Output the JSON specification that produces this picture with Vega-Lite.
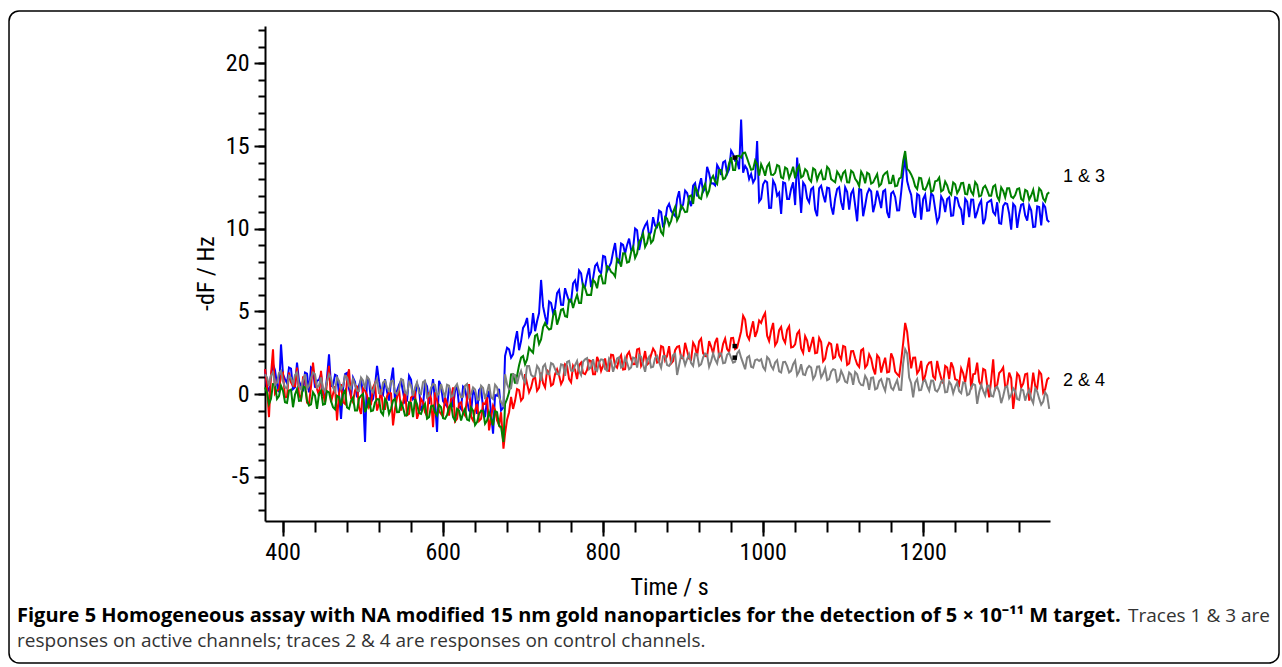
{
  "$schema": "https://vega.github.io/schema/vega-lite/v6.json",
  "width": 785,
  "height": 495,
  "autosize": {"type": "none"},
  "padding": {"left": 265, "top": 26, "right": 232, "bottom": 146},
  "background": "white",
  "config": {
    "view": {"stroke": null},
    "axis": {"domainColor": "black", "tickColor": "black", "labelColor": "black", "titleColor": "black", "grid": false}
  },
  "data": {"values": [
    {"t":378,"T1":1.5,"T2":1.5,"T3":0.4,"T4":1.2},
    {"t":383,"T1":0.2,"T2":-1.4,"T3":-0.6,"T4":0.5},
    {"t":388,"T1":1.8,"T2":2.7,"T3":0.6,"T4":1.3},
    {"t":393,"T1":0.6,"T2":0.2,"T3":-0.3,"T4":0.7},
    {"t":398,"T1":3.0,"T2":1.1,"T3":0.5,"T4":1.4},
    {"t":403,"T1":0.9,"T2":-0.2,"T3":-0.5,"T4":0.4},
    {"t":408,"T1":1.6,"T2":1.3,"T3":0.2,"T4":1.1},
    {"t":413,"T1":0.3,"T2":0.5,"T3":-0.8,"T4":0.6},
    {"t":418,"T1":1.9,"T2":1.6,"T3":0.3,"T4":1.3},
    {"t":423,"T1":0.5,"T2":-0.3,"T3":-0.4,"T4":0.3},
    {"t":428,"T1":1.3,"T2":1.0,"T3":0.4,"T4":1.2},
    {"t":433,"T1":0.1,"T2":-0.6,"T3":-0.7,"T4":0.5},
    {"t":438,"T1":1.5,"T2":1.9,"T3":0.1,"T4":1.3},
    {"t":443,"T1":0.8,"T2":0.3,"T3":-0.9,"T4":0.4},
    {"t":448,"T1":1.2,"T2":1.4,"T3":0.2,"T4":1.0},
    {"t":453,"T1":-0.1,"T2":-0.5,"T3":-0.6,"T4":0.2},
    {"t":458,"T1":2.4,"T2":1.7,"T3":0.1,"T4":1.2},
    {"t":463,"T1":0.5,"T2":0.0,"T3":-0.8,"T4":0.4},
    {"t":468,"T1":1.1,"T2":-1.6,"T3":-0.1,"T4":1.0},
    {"t":473,"T1":-1.5,"T2":0.6,"T3":-0.7,"T4":0.3},
    {"t":478,"T1":1.2,"T2":-0.6,"T3":0.2,"T4":1.1},
    {"t":483,"T1":0.3,"T2":1.5,"T3":-0.9,"T4":0.5},
    {"t":488,"T1":1.0,"T2":-0.5,"T3":-0.2,"T4":0.9},
    {"t":493,"T1":-0.2,"T2":0.5,"T3":-1.0,"T4":0.2},
    {"t":498,"T1":0.9,"T2":-1.2,"T3":-0.1,"T4":1.0},
    {"t":503,"T1":-2.9,"T2":0.2,"T3":-1.1,"T4":0.3},
    {"t":508,"T1":0.8,"T2":-0.8,"T3":-0.2,"T4":0.9},
    {"t":513,"T1":-0.3,"T2":0.4,"T3":-1.0,"T4":0.1},
    {"t":518,"T1":1.7,"T2":-1.0,"T3":-0.3,"T4":0.9},
    {"t":523,"T1":0.1,"T2":0.3,"T3":-1.1,"T4":0.0},
    {"t":528,"T1":0.9,"T2":-0.9,"T3":-0.3,"T4":0.8},
    {"t":533,"T1":-0.4,"T2":0.1,"T3":-1.2,"T4":0.2},
    {"t":538,"T1":1.6,"T2":-1.9,"T3":-0.4,"T4":0.8},
    {"t":543,"T1":0.2,"T2":-0.2,"T3":-1.1,"T4":0.0},
    {"t":548,"T1":0.8,"T2":-1.0,"T3":-0.5,"T4":0.9},
    {"t":553,"T1":-0.5,"T2":0.2,"T3":-1.3,"T4":0.1},
    {"t":558,"T1":1.1,"T2":-1.2,"T3":-0.5,"T4":0.7},
    {"t":563,"T1":-0.3,"T2":-0.1,"T3":-1.4,"T4":-0.1},
    {"t":568,"T1":0.6,"T2":-1.5,"T3":-0.6,"T4":0.7},
    {"t":573,"T1":-1.0,"T2":-0.3,"T3":-1.2,"T4":0.0},
    {"t":578,"T1":0.7,"T2":-1.1,"T3":-0.6,"T4":0.8},
    {"t":583,"T1":-0.6,"T2":0.1,"T3":-1.4,"T4":-0.1},
    {"t":588,"T1":0.9,"T2":-2.0,"T3":-0.7,"T4":0.6},
    {"t":593,"T1":-2.3,"T2":-0.4,"T3":-1.3,"T4":-0.1},
    {"t":598,"T1":0.5,"T2":-1.2,"T3":-0.8,"T4":0.6},
    {"t":603,"T1":-0.6,"T2":-0.2,"T3":-1.5,"T4":-0.2},
    {"t":608,"T1":0.4,"T2":-1.3,"T3":-0.8,"T4":0.5},
    {"t":613,"T1":-0.8,"T2":0.4,"T3":-1.4,"T4":-0.1},
    {"t":618,"T1":0.5,"T2":-1.5,"T3":-0.9,"T4":0.6},
    {"t":623,"T1":-0.9,"T2":-0.5,"T3":-1.6,"T4":-0.2},
    {"t":628,"T1":0.3,"T2":-1.3,"T3":-0.9,"T4":0.5},
    {"t":633,"T1":-1.0,"T2":0.6,"T3":-1.6,"T4":-0.2},
    {"t":638,"T1":0.2,"T2":-1.6,"T3":-1.0,"T4":0.4},
    {"t":643,"T1":-1.2,"T2":-0.6,"T3":-1.7,"T4":-0.3},
    {"t":648,"T1":0.4,"T2":-1.5,"T3":-1.0,"T4":0.5},
    {"t":653,"T1":-1.4,"T2":-0.6,"T3":-1.8,"T4":-0.3},
    {"t":658,"T1":0.2,"T2":-2.2,"T3":-1.1,"T4":0.6},
    {"t":663,"T1":-2.4,"T2":-0.7,"T3":-1.9,"T4":-0.3},
    {"t":668,"T1":-0.1,"T2":-1.6,"T3":-1.1,"T4":0.4},
    {"t":673,"T1":-1.0,"T2":-1.1,"T3":-2.0,"T4":-0.5},
    {"t":676,"T1":-0.8,"T2":-3.3,"T3":-2.9,"T4":-0.7},
    {"t":678,"T1":2.3,"T2":-2.4,"T3":-0.6,"T4":1.2},
    {"t":683,"T1":2.7,"T2":-1.1,"T3":0.1,"T4":0.3},
    {"t":688,"T1":2.4,"T2":-0.9,"T3":1.2,"T4":1.2},
    {"t":693,"T1":3.8,"T2":0.3,"T3":1.1,"T4":0.6},
    {"t":698,"T1":3.2,"T2":-0.4,"T3":2.2,"T4":1.4},
    {"t":703,"T1":4.2,"T2":1.2,"T3":1.8,"T4":0.7},
    {"t":708,"T1":3.5,"T2":0.1,"T3":2.8,"T4":1.7},
    {"t":713,"T1":4.9,"T2":0.9,"T3":2.5,"T4":1.05},
    {"t":718,"T1":4.4,"T2":0.2,"T3":3.6,"T4":1.7},
    {"t":723,"T1":6.9,"T2":1.3,"T3":3.3,"T4":0.8},
    {"t":728,"T1":4.7,"T2":0.4,"T3":4.3,"T4":1.8},
    {"t":733,"T1":5.6,"T2":1.3,"T3":3.9,"T4":1.2},
    {"t":738,"T1":4.9,"T2":0.6,"T3":4.7,"T4":1.8},
    {"t":743,"T1":6.1,"T2":1.5,"T3":4.2,"T4":1.2},
    {"t":748,"T1":5.4,"T2":0.6,"T3":5.1,"T4":1.8},
    {"t":753,"T1":6.4,"T2":1.8,"T3":4.7,"T4":1.1},
    {"t":758,"T1":5.6,"T2":0.9,"T3":5.7,"T4":2.0},
    {"t":763,"T1":6.7,"T2":1.7,"T3":5.2,"T4":1.4},
    {"t":768,"T1":6.2,"T2":0.9,"T3":6.0,"T4":2.0},
    {"t":773,"T1":7.3,"T2":1.9,"T3":5.5,"T4":1.15},
    {"t":778,"T1":6.5,"T2":1.2,"T3":6.4,"T4":2.1},
    {"t":783,"T1":7.6,"T2":2.05,"T3":6.0,"T4":1.5},
    {"t":788,"T1":7.0,"T2":1.2,"T3":6.9,"T4":2.1},
    {"t":793,"T1":7.9,"T2":2.25,"T3":6.4,"T4":1.4},
    {"t":798,"T1":7.3,"T2":1.4,"T3":7.2,"T4":2.1},
    {"t":803,"T1":8.3,"T2":2.15,"T3":6.7,"T4":1.5},
    {"t":808,"T1":7.7,"T2":1.4,"T3":7.65,"T4":2.15},
    {"t":813,"T1":8.6,"T2":2.35,"T3":7.3,"T4":1.35},
    {"t":818,"T1":8.0,"T2":1.6,"T3":8.2,"T4":2.15},
    {"t":823,"T1":9.1,"T2":2.35,"T3":7.7,"T4":1.6},
    {"t":828,"T1":8.5,"T2":1.5,"T3":8.5,"T4":2.2},
    {"t":833,"T1":9.4,"T2":2.55,"T3":8.0,"T4":1.5},
    {"t":838,"T1":8.8,"T2":1.8,"T3":8.9,"T4":2.2},
    {"t":843,"T1":9.9,"T2":2.7,"T3":8.5,"T4":1.6},
    {"t":848,"T1":9.3,"T2":1.7,"T3":9.4,"T4":2.25},
    {"t":853,"T1":10.2,"T2":2.6,"T3":8.9,"T4":1.35},
    {"t":858,"T1":9.6,"T2":1.9,"T3":9.75,"T4":2.25},
    {"t":863,"T1":10.7,"T2":2.75,"T3":9.3,"T4":1.65},
    {"t":868,"T1":10.1,"T2":1.9,"T3":10.2,"T4":2.3},
    {"t":873,"T1":11.0,"T2":2.9,"T3":9.8,"T4":1.6},
    {"t":878,"T1":10.4,"T2":2.05,"T3":10.7,"T4":2.3},
    {"t":883,"T1":11.5,"T2":2.9,"T3":10.2,"T4":1.7},
    {"t":888,"T1":10.9,"T2":2.0,"T3":11.0,"T4":2.35},
    {"t":893,"T1":11.8,"T2":2.85,"T3":10.5,"T4":1.15},
    {"t":898,"T1":11.2,"T2":2.2,"T3":11.4,"T4":2.35},
    {"t":903,"T1":12.3,"T2":3.1,"T3":11.0,"T4":1.75},
    {"t":908,"T1":11.7,"T2":2.15,"T3":11.95,"T4":2.4},
    {"t":913,"T1":12.6,"T2":3.1,"T3":11.5,"T4":1.7},
    {"t":918,"T1":11.95,"T2":2.3,"T3":12.3,"T4":2.4},
    {"t":923,"T1":13.05,"T2":3.35,"T3":11.8,"T4":1.8},
    {"t":928,"T1":12.45,"T2":2.3,"T3":12.7,"T4":2.45},
    {"t":933,"T1":13.35,"T2":3.2,"T3":12.3,"T4":1.65},
    {"t":938,"T1":12.75,"T2":2.45,"T3":13.2,"T4":2.45},
    {"t":943,"T1":13.85,"T2":3.4,"T3":12.7,"T4":1.85},
    {"t":948,"T1":13.25,"T2":2.4,"T3":13.55,"T4":2.45},
    {"t":953,"T1":14.1,"T2":3.35,"T3":13.05,"T4":1.9},
    {"t":958,"T1":13.6,"T2":2.55,"T3":13.95,"T4":2.5},
    {"t":963,"T1":14.5,"T2":3.4,"T3":13.55,"T4":1.9},
    {"t":968,"T1":14.1,"T2":2.8,"T3":14.4,"T4":2.45},
    {"t":973,"T1":16.6,"T2":3.8,"T3":14.3,"T4":2.2},
    {"t":978,"T1":13.8,"T2":4.5,"T3":14.6,"T4":1.5},
    {"t":983,"T1":13.0,"T2":3.3,"T3":13.9,"T4":2.3},
    {"t":988,"T1":12.8,"T2":4.4,"T3":13.6,"T4":1.6},
    {"t":993,"T1":15.3,"T2":3.8,"T3":13.9,"T4":2.1},
    {"t":998,"T1":11.8,"T2":4.3,"T3":13.9,"T4":2.1},
    {"t":1003,"T1":12.9,"T2":4.9,"T3":13.2,"T4":1.45},
    {"t":1008,"T1":11.25,"T2":3.2,"T3":13.95,"T4":2.1},
    {"t":1013,"T1":12.9,"T2":4.3,"T3":13.25,"T4":1.5},
    {"t":1018,"T1":12.0,"T2":3.15,"T3":13.85,"T4":2.05},
    {"t":1023,"T1":10.9,"T2":4.05,"T3":13.1,"T4":1.3},
    {"t":1028,"T1":12.75,"T2":3.1,"T3":13.7,"T4":1.95},
    {"t":1033,"T1":11.8,"T2":4.1,"T3":13.05,"T4":1.3},
    {"t":1038,"T1":12.8,"T2":2.85,"T3":13.75,"T4":1.8},
    {"t":1043,"T1":14.3,"T2":3.65,"T3":13.6,"T4":1.15},
    {"t":1048,"T1":10.95,"T2":2.75,"T3":13.1,"T4":1.8},
    {"t":1053,"T1":12.6,"T2":3.5,"T3":13.6,"T4":1.15},
    {"t":1058,"T1":11.6,"T2":2.55,"T3":13.0,"T4":1.7},
    {"t":1063,"T1":12.5,"T2":3.45,"T3":13.65,"T4":0.9},
    {"t":1068,"T1":10.75,"T2":2.5,"T3":12.95,"T4":1.65},
    {"t":1073,"T1":12.6,"T2":3.15,"T3":13.5,"T4":1.0},
    {"t":1078,"T1":11.6,"T2":2.15,"T3":13.0,"T4":1.55},
    {"t":1083,"T1":12.45,"T2":3.1,"T3":13.6,"T4":0.9},
    {"t":1088,"T1":10.85,"T2":2.15,"T3":12.9,"T4":1.5},
    {"t":1093,"T1":12.4,"T2":3.05,"T3":13.45,"T4":0.75},
    {"t":1098,"T1":11.6,"T2":2.1,"T3":12.95,"T4":1.4},
    {"t":1103,"T1":12.5,"T2":2.85,"T3":13.5,"T4":0.75},
    {"t":1108,"T1":11.15,"T2":1.85,"T3":12.8,"T4":1.3},
    {"t":1113,"T1":12.35,"T2":2.6,"T3":13.4,"T4":0.55},
    {"t":1118,"T1":10.45,"T2":1.8,"T3":12.85,"T4":1.2},
    {"t":1123,"T1":12.35,"T2":2.65,"T3":13.45,"T4":0.55},
    {"t":1128,"T1":11.4,"T2":1.6,"T3":12.75,"T4":1.1},
    {"t":1133,"T1":12.4,"T2":2.4,"T3":13.3,"T4":0.25},
    {"t":1138,"T1":11.0,"T2":1.55,"T3":12.8,"T4":1.0},
    {"t":1143,"T1":12.3,"T2":2.35,"T3":13.3,"T4":0.35},
    {"t":1148,"T1":11.25,"T2":1.3,"T3":12.7,"T4":0.9},
    {"t":1153,"T1":12.35,"T2":2.2,"T3":13.35,"T4":0.2},
    {"t":1158,"T1":10.65,"T2":1.35,"T3":12.75,"T4":0.9},
    {"t":1163,"T1":12.25,"T2":2.15,"T3":13.25,"T4":0.25},
    {"t":1168,"T1":11.1,"T2":1.2,"T3":12.6,"T4":0.85},
    {"t":1173,"T1":12.2,"T2":2.0,"T3":13.1,"T4":0.25},
    {"t":1178,"T1":14.3,"T2":4.3,"T3":14.7,"T4":2.7},
    {"t":1183,"T1":12.4,"T2":2.6,"T3":13.5,"T4":1.0},
    {"t":1188,"T1":11.0,"T2":2.2,"T3":13.0,"T4":-0.2},
    {"t":1193,"T1":12.1,"T2":1.25,"T3":12.4,"T4":0.9},
    {"t":1198,"T1":10.55,"T2":2.0,"T3":13.05,"T4":0.25},
    {"t":1203,"T1":12.05,"T2":1.1,"T3":12.35,"T4":0.85},
    {"t":1208,"T1":11.1,"T2":1.9,"T3":12.95,"T4":0.2},
    {"t":1213,"T1":12.0,"T2":1.05,"T3":12.3,"T4":0.8},
    {"t":1218,"T1":10.4,"T2":2.0,"T3":12.9,"T4":0.15},
    {"t":1223,"T1":11.95,"T2":0.95,"T3":12.25,"T4":0.75},
    {"t":1228,"T1":11.0,"T2":1.7,"T3":12.85,"T4":0.1},
    {"t":1233,"T1":11.9,"T2":0.9,"T3":12.2,"T4":0.75},
    {"t":1238,"T1":10.8,"T2":1.6,"T3":12.8,"T4":0.05},
    {"t":1243,"T1":11.85,"T2":0.85,"T3":12.15,"T4":0.7},
    {"t":1248,"T1":11.15,"T2":1.55,"T3":12.75,"T4":0.05},
    {"t":1253,"T1":11.8,"T2":0.7,"T3":12.1,"T4":0.65},
    {"t":1258,"T1":10.7,"T2":2.2,"T3":12.7,"T4":0.0},
    {"t":1263,"T1":11.75,"T2":1.2,"T3":12.05,"T4":0.6},
    {"t":1268,"T1":11.0,"T2":1.9,"T3":12.65,"T4":-0.6},
    {"t":1273,"T1":11.7,"T2":0.5,"T3":12.0,"T4":0.55},
    {"t":1278,"T1":10.6,"T2":1.45,"T3":12.6,"T4":-0.1},
    {"t":1283,"T1":11.65,"T2":-0.2,"T3":12.0,"T4":0.5},
    {"t":1288,"T1":11.0,"T2":2.1,"T3":12.55,"T4":-0.15},
    {"t":1293,"T1":11.6,"T2":0.55,"T3":11.95,"T4":0.45},
    {"t":1298,"T1":10.3,"T2":1.4,"T3":12.5,"T4":-0.55},
    {"t":1303,"T1":11.55,"T2":0.45,"T3":11.9,"T4":0.4},
    {"t":1308,"T1":10.9,"T2":1.3,"T3":12.45,"T4":-0.25},
    {"t":1313,"T1":11.5,"T2":-0.9,"T3":11.85,"T4":0.35},
    {"t":1318,"T1":10.05,"T2":1.25,"T3":12.4,"T4":-0.3},
    {"t":1323,"T1":11.45,"T2":0.4,"T3":11.8,"T4":0.3},
    {"t":1328,"T1":10.8,"T2":1.2,"T3":12.35,"T4":-0.4},
    {"t":1333,"T1":11.4,"T2":-0.4,"T3":11.75,"T4":0.25},
    {"t":1338,"T1":10.1,"T2":1.3,"T3":12.35,"T4":-0.55},
    {"t":1343,"T1":11.35,"T2":0.35,"T3":11.7,"T4":0.15},
    {"t":1348,"T1":10.2,"T2":1.2,"T3":12.3,"T4":-0.65},
    {"t":1353,"T1":11.3,"T2":0.3,"T3":11.65,"T4":0.1},
    {"t":1358,"T1":10.4,"T2":1.0,"T3":12.2,"T4":-0.9},
    {"t":380.5,"T1":0.39,"T2":0.48,"T3":0.09,"T4":1.01},
    {"t":385.5,"T1":1.16,"T2":1.15,"T3":-0.29,"T4":1.12},
    {"t":390.5,"T1":1.44,"T2":0.02,"T3":0.59,"T4":0.56},
    {"t":395.5,"T1":0.11,"T2":0.29,"T3":-0.13,"T4":1.27},
    {"t":400.5,"T1":1.19,"T2":1.26,"T3":0.19,"T4":0.77},
    {"t":405.5,"T1":0.66,"T2":-0.17,"T3":-0.54,"T4":0.34},
    {"t":410.5,"T1":1.53,"T2":0.7,"T3":0.27,"T4":0.98},
    {"t":415.5,"T1":0.41,"T2":0.47,"T3":-0.03,"T4":1.15},
    {"t":420.5,"T1":0.78,"T2":-0.06,"T3":-0.41,"T4":0.47},
    {"t":425.5,"T1":0.16,"T2":1.01,"T3":0.47,"T4":0.81},
    {"t":430.5,"T1":1.23,"T2":-0.52,"T3":-0.39,"T4":0.32},
    {"t":435.5,"T1":1.61,"T2":0.45,"T3":-0.63,"T4":0.96},
    {"t":440.5,"T1":0.38,"T2":0.72,"T3":-0.1,"T4":1.19},
    {"t":445.5,"T1":0.86,"T2":-0.11,"T3":0.01,"T4":0.51},
    {"t":450.5,"T1":-0.07,"T2":0.06,"T3":-0.64,"T4":0.32},
    {"t":455.5,"T1":1.01,"T2":0.73,"T3":0.17,"T4":0.78},
    {"t":460.5,"T1":0.48,"T2":-0.5,"T3":-0.42,"T4":0.95},
    {"t":465.5,"T1":1.16,"T2":0.47,"T3":-0.93,"T4":0.15},
    {"t":470.5,"T1":0.03,"T2":0.04,"T3":-0.19,"T4":0.8},
    {"t":475.5,"T1":0.3,"T2":-0.49,"T3":-0.01,"T4":0.48},
    {"t":480.5,"T1":1.28,"T2":0.77,"T3":-0.81,"T4":1.01},
    {"t":485.5,"T1":-0.15,"T2":-0.26,"T3":-0.41,"T4":0.33},
    {"t":490.5,"T1":0.73,"T2":0.21,"T3":-1.0,"T4":0.56},
    {"t":495.5,"T1":0.5,"T2":-0.82,"T3":-0.26,"T4":0.18},
    {"t":500.5,"T1":-0.02,"T2":0.35,"T3":0.0,"T4":0.83},
    {"t":505.5,"T1":1.05,"T2":-0.08,"T3":-0.8,"T4":1.05},
    {"t":510.5,"T1":-0.47,"T2":-0.61,"T3":-1.04,"T4":0.31},
    {"t":515.5,"T1":0.5,"T2":0.66,"T3":-0.51,"T4":0.6},
    {"t":520.5,"T1":0.78,"T2":-0.57,"T3":-0.32,"T4":0.04},
    {"t":525.5,"T1":-0.05,"T2":-0.9,"T3":-1.26,"T4":0.69},
    {"t":530.5,"T1":0.13,"T2":-0.13,"T3":-0.52,"T4":0.37},
    {"t":535.5,"T1":0.8,"T2":0.04,"T3":-0.89,"T4":0.78},
    {"t":540.5,"T1":-0.43,"T2":-0.89,"T3":-0.29,"T4":0.1},
    {"t":545.5,"T1":0.55,"T2":0.28,"T3":-1.09,"T4":0.27},
    {"t":550.5,"T1":0.12,"T2":-0.55,"T3":-0.83,"T4":0.85},
    {"t":555.5,"T1":-0.4,"T2":-1.28,"T3":-1.28,"T4":0.0},
    {"t":560.5,"T1":0.87,"T2":-0.21,"T3":-0.54,"T4":0.52},
    {"t":565.5,"T1":-0.15,"T2":0.06,"T3":-0.29,"T4":0.39},
    {"t":570.5,"T1":0.32,"T2":-1.07,"T3":-1.15,"T4":0.07},
    {"t":575.5,"T1":-0.7,"T2":-0.5,"T3":-0.83,"T4":0.72},
    {"t":580.5,"T1":0.47,"T2":-1.34,"T3":-1.49,"T4":-0.2},
    {"t":585.5,"T1":0.05,"T2":-0.27,"T3":-0.74,"T4":0.39},
    {"t":590.5,"T1":-0.48,"T2":0.1,"T3":-1.12,"T4":0.55},
    {"t":595.5,"T1":0.8,"T2":-1.03,"T3":-0.66,"T4":0.05},
    {"t":600.5,"T1":-0.43,"T2":-1.36,"T3":-1.46,"T4":0.16},
    {"t":605.5,"T1":-0.76,"T2":-0.59,"T3":-1.27,"T4":0.56},
    {"t":610.5,"T1":0.02,"T2":-0.32,"T3":-0.6,"T4":-0.17},
    {"t":615.5,"T1":0.19,"T2":-1.65,"T3":-1.61,"T4":0.41},
    {"t":620.5,"T1":-0.73,"T2":-0.58,"T3":-1.0,"T4":0.16},
    {"t":625.5,"T1":0.44,"T2":-1.11,"T3":-1.17,"T4":-0.16},
    {"t":630.5,"T1":-0.38,"T2":-0.24,"T3":-1.55,"T4":0.61},
    {"t":635.5,"T1":-1.11,"T2":-1.37,"T3":-0.81,"T4":-0.01},
    {"t":640.5,"T1":-0.03,"T2":-1.0,"T3":-1.88,"T4":0.28},
    {"t":645.5,"T1":0.24,"T2":-1.63,"T3":-1.21,"T4":-0.34},
    {"t":650.5,"T1":-0.88,"T2":-0.56,"T3":-1.03,"T4":0.37},
    {"t":655.5,"T1":-0.31,"T2":-0.19,"T3":-1.61,"T4":0.11},
    {"t":660.5,"T1":-1.14,"T2":-1.42,"T3":-1.5,"T4":-0.2},
    {"t":665.5,"T1":-0.06,"T2":-0.95,"T3":-1.04,"T4":0.56},
    {"t":670.5,"T1":0.31,"T2":-1.88,"T3":-1.91,"T4":-0.17},
    {"t":680.5,"T1":2.8,"T2":-1.55,"T3":-0.3,"T4":0.6},
    {"t":685.5,"T1":2.2,"T2":-0.17,"T3":1.19,"T4":0.35},
    {"t":690.5,"T1":3.2,"T2":-0.41,"T3":0.64,"T4":1.15},
    {"t":695.5,"T1":2.65,"T2":0.24,"T3":1.74,"T4":1.1},
    {"t":700.5,"T1":4.0,"T2":-0.24,"T3":2.3,"T4":0.95},
    {"t":705.5,"T1":4.6,"T2":0.63,"T3":2.09,"T4":1.7},
    {"t":710.5,"T1":3.75,"T2":0.38,"T3":2.63,"T4":1.17},
    {"t":715.5,"T1":3.8,"T2":1.02,"T3":3.52,"T4":1.08},
    {"t":720.5,"T1":4.9,"T2":0.38,"T3":3.03,"T4":1.52},
    {"t":725.5,"T1":5.3,"T2":0.66,"T3":4.03,"T4":1.65},
    {"t":730.5,"T1":4.2,"T2":1.43,"T3":4.05,"T4":1.23},
    {"t":735.5,"T1":5.5,"T2":0.51,"T3":3.95,"T4":1.87},
    {"t":740.5,"T1":5.19,"T2":1.21,"T3":5.08,"T4":1.5},
    {"t":745.5,"T1":6.29,"T2":1.14,"T3":4.59,"T4":1.18},
    {"t":750.5,"T1":5.39,"T2":0.85,"T3":5.15,"T4":1.76},
    {"t":755.5,"T1":5.98,"T2":1.69,"T3":4.66,"T4":1.94},
    {"t":760.5,"T1":5.58,"T2":0.71,"T3":5.71,"T4":1.42},
    {"t":765.5,"T1":6.87,"T2":1.47,"T3":5.64,"T4":1.75},
    {"t":770.5,"T1":7.47,"T2":1.75,"T3":5.5,"T4":1.38},
    {"t":775.5,"T1":6.47,"T2":1.26,"T3":6.62,"T4":1.95},
    {"t":780.5,"T1":7.16,"T2":1.45,"T3":5.99,"T4":2.17},
    {"t":785.5,"T1":6.46,"T2":1.99,"T3":5.99,"T4":1.63},
    {"t":790.5,"T1":7.75,"T2":1.2,"T3":6.76,"T4":1.5},
    {"t":795.5,"T1":7.45,"T2":1.95,"T3":7.11,"T4":1.91},
    {"t":800.5,"T1":8.35,"T2":1.72,"T3":6.69,"T4":2.07},
    {"t":805.5,"T1":7.44,"T2":1.42,"T3":7.74,"T4":1.43},
    {"t":810.5,"T1":7.94,"T2":2.38,"T3":7.39,"T4":1.99},
    {"t":815.5,"T1":9.13,"T2":1.73,"T3":7.11,"T4":1.75},
    {"t":820.5,"T1":7.93,"T2":2.13,"T3":8.09,"T4":2.22},
    {"t":825.5,"T1":9.02,"T2":1.48,"T3":8.51,"T4":1.68},
    {"t":830.5,"T1":9.02,"T2":2.37,"T3":7.95,"T4":1.89},
    {"t":835.5,"T1":8.72,"T2":2.12,"T3":8.58,"T4":1.6},
    {"t":840.5,"T1":10.01,"T2":1.81,"T3":8.23,"T4":2.16},
    {"t":845.5,"T1":8.71,"T2":2.75,"T3":9.21,"T4":2.37},
    {"t":850.5,"T1":9.9,"T2":1.95,"T3":9.7,"T4":1.78},
    {"t":855.5,"T1":10.4,"T2":1.78,"T3":9.14,"T4":2.05},
    {"t":860.5,"T1":9.8,"T2":2.37,"T3":9.14,"T4":1.61},
    {"t":865.5,"T1":10.19,"T2":2.55,"T3":9.91,"T4":2.17},
    {"t":870.5,"T1":11.09,"T2":1.95,"T3":10.33,"T4":1.93},
    {"t":875.5,"T1":10.08,"T2":2.83,"T3":9.63,"T4":2.29},
    {"t":880.5,"T1":11.28,"T2":2.3,"T3":10.61,"T4":1.75},
    {"t":885.5,"T1":11.08,"T2":1.85,"T3":10.47,"T4":1.92},
    {"t":890.5,"T1":10.77,"T2":2.65,"T3":11.31,"T4":2.43},
    {"t":895.5,"T1":12.27,"T2":2.9,"T3":10.75,"T4":1.74},
    {"t":900.5,"T1":11.46,"T2":2.16,"T3":11.24,"T4":2.2},
    {"t":905.5,"T1":12.16,"T2":2.61,"T3":11.03,"T4":2.11},
    {"t":910.5,"T1":11.36,"T2":2.08,"T3":12.01,"T4":1.87},
    {"t":915.5,"T1":12.75,"T2":2.88,"T3":12.5,"T4":2.43},
    {"t":920.5,"T1":12.55,"T2":3.19,"T3":11.87,"T4":1.7},
    {"t":925.5,"T1":12.24,"T2":2.46,"T3":12.43,"T4":2.21},
    {"t":930.5,"T1":13.74,"T2":2.28,"T3":12.01,"T4":2.37},
    {"t":935.5,"T1":12.74,"T2":2.87,"T3":12.99,"T4":1.98},
    {"t":940.5,"T1":12.63,"T2":3.11,"T3":12.85,"T4":2.09},
    {"t":945.5,"T1":13.63,"T2":2.24,"T3":13.55,"T4":2.45},
    {"t":950.5,"T1":14.02,"T2":3.04,"T3":12.99,"T4":1.86},
    {"t":955.5,"T1":13.32,"T2":2.72,"T3":13.41,"T4":2.38},
    {"t":960.5,"T1":14.72,"T2":3.38,"T3":14.32,"T4":2.19},
    {"t":965.5,"T1":14.11,"T2":2.72,"T3":13.55,"T4":1.95},
    {"t":970.5,"T1":13.6,"T2":3.3,"T3":14.41,"T4":2.62},
    {"t":975.5,"T1":13.38,"T2":4.73,"T3":14.58,"T4":1.85},
    {"t":980.5,"T1":13.6,"T2":3.54,"T3":14.26,"T4":2.2},
    {"t":985.5,"T1":13.3,"T2":3.9,"T3":13.56,"T4":1.65},
    {"t":990.5,"T1":13.02,"T2":3.46,"T3":14.12,"T4":2.05},
    {"t":995.5,"T1":11.64,"T2":4.45,"T3":13.22,"T4":2.0},
    {"t":1000.5,"T1":12.69,"T2":4.66,"T3":13.61,"T4":1.63},
    {"t":1005.5,"T1":12.81,"T2":3.53,"T3":13.77,"T4":2.24},
    {"t":1010.5,"T1":11.26,"T2":3.84,"T3":13.27,"T4":1.7},
    {"t":1015.5,"T1":12.66,"T2":2.95,"T3":13.38,"T4":1.91},
    {"t":1020.5,"T1":12.17,"T2":3.86,"T3":13.78,"T4":1.37},
    {"t":1025.5,"T1":12.81,"T2":3.34,"T3":13.04,"T4":1.93},
    {"t":1030.5,"T1":11.8,"T2":3.89,"T3":13.62,"T4":1.69},
    {"t":1035.5,"T1":12.41,"T2":2.82,"T3":13.36,"T4":1.4},
    {"t":1040.5,"T1":11.43,"T2":3.01,"T3":13.05,"T4":2.01},
    {"t":1045.5,"T1":12.61,"T2":3.82,"T3":13.81,"T4":1.37},
    {"t":1050.5,"T1":12.79,"T2":2.49,"T3":13.19,"T4":1.18},
    {"t":1055.5,"T1":11.83,"T2":3.24,"T3":13.47,"T4":1.54},
    {"t":1060.5,"T1":12.39,"T2":2.99,"T3":12.85,"T4":1.6},
    {"t":1065.5,"T1":11.14,"T2":2.47,"T3":13.56,"T4":1.11},
    {"t":1070.5,"T1":12.44,"T2":3.4,"T3":13.3,"T4":1.67},
    {"t":1075.5,"T1":12.05,"T2":1.98,"T3":12.98,"T4":1.23},
    {"t":1080.5,"T1":12.49,"T2":2.81,"T3":13.74,"T4":0.84},
    {"t":1085.5,"T1":11.36,"T2":3.02,"T3":13.0,"T4":1.35},
    {"t":1090.5,"T1":11.82,"T2":2.23,"T3":12.81,"T4":1.46},
    {"t":1095.5,"T1":12.51,"T2":2.34,"T3":13.27,"T4":0.87},
    {"t":1100.5,"T1":11.14,"T2":2.91,"T3":13.37,"T4":1.13},
    {"t":1105.5,"T1":12.23,"T2":1.76,"T3":12.81,"T4":0.68},
    {"t":1110.5,"T1":12.12,"T2":2.59,"T3":13.51,"T4":1.18},
    {"t":1115.5,"T1":11.41,"T2":2.16,"T3":13.02,"T4":1.33},
    {"t":1120.5,"T1":12.39,"T2":1.64,"T3":12.58,"T4":0.73},
    {"t":1125.5,"T1":10.75,"T2":2.74,"T3":13.23,"T4":0.53},
    {"t":1130.5,"T1":12.11,"T2":1.77,"T3":13.39,"T4":0.88},
    {"t":1135.5,"T1":12.25,"T2":2.15,"T3":12.72,"T4":0.98},
    {"t":1140.5,"T1":11.51,"T2":1.18,"T3":13.06,"T4":0.28},
    {"t":1145.5,"T1":11.81,"T2":2.19,"T3":12.57,"T4":0.78},
    {"t":1150.5,"T1":12.26,"T2":1.78,"T3":13.21,"T4":0.5},
    {"t":1155.5,"T1":10.99,"T2":1.31,"T3":13.44,"T4":0.94},
    {"t":1160.5,"T1":12.13,"T2":2.46,"T3":12.76,"T4":0.38},
    {"t":1165.5,"T1":11.92,"T2":1.36,"T3":12.57,"T4":0.57},
    {"t":1170.5,"T1":11.11,"T2":1.07,"T3":13.03,"T4":0.26},
    {"t":1175.5,"T1":13.4,"T2":3.08,"T3":14.1,"T4":1.85},
    {"t":1180.5,"T1":12.88,"T2":3.76,"T3":13.62,"T4":2.45},
    {"t":1185.5,"T1":12.05,"T2":1.55,"T3":13.28,"T4":0.65},
    {"t":1190.5,"T1":10.67,"T2":2.21,"T3":12.57,"T4":0.69},
    {"t":1195.5,"T1":12.01,"T2":1.44,"T3":13.08,"T4":0.22},
    {"t":1200.5,"T1":11.79,"T2":0.76,"T3":12.4,"T4":0.75},
    {"t":1205.5,"T1":11.08,"T2":1.71,"T3":12.62,"T4":0.48},
    {"t":1210.5,"T1":12.14,"T2":1.94,"T3":12.23,"T4":0.81},
    {"t":1215.5,"T1":11.19,"T2":0.91,"T3":12.87,"T4":0.24},
    {"t":1220.5,"T1":10.69,"T2":1.41,"T3":13.09,"T4":0.37},
    {"t":1225.5,"T1":11.72,"T2":0.65,"T3":12.34,"T4":0.85},
    {"t":1230.5,"T1":11.8,"T2":1.6,"T3":12.62,"T4":0.13},
    {"t":1235.5,"T1":10.78,"T2":1.92,"T3":12.06,"T4":0.56},
    {"t":1240.5,"T1":11.9,"T2":0.89,"T3":12.69,"T4":0.44},
    {"t":1245.5,"T1":11.37,"T2":0.58,"T3":12.37,"T4":0.17},
    {"t":1250.5,"T1":10.23,"T2":1.26,"T3":12.77,"T4":0.7},
    {"t":1255.5,"T1":11.63,"T2":1.49,"T3":12.08,"T4":-0.07},
    {"t":1260.5,"T1":11.76,"T2":0.28,"T3":12.24,"T4":0.41},
    {"t":1265.5,"T1":10.64,"T2":1.23,"T3":12.82,"T4":0.54},
    {"t":1270.5,"T1":11.46,"T2":0.74,"T3":11.95,"T4":0.11},
    {"t":1275.5,"T1":10.27,"T2":1.52,"T3":12.47,"T4":0.19},
    {"t":1280.5,"T1":11.57,"T2":0.51,"T3":12.33,"T4":0.51},
    {"t":1285.5,"T1":11.74,"T2":0.86,"T3":12.0,"T4":-0.12},
    {"t":1290.5,"T1":10.84,"T2":0.3,"T3":12.64,"T4":0.36},
    {"t":1295.5,"T1":10.33,"T2":1.27,"T3":11.71,"T4":0.13},
    {"t":1300.5,"T1":11.37,"T2":1.61,"T3":12.29,"T4":-0.14},
    {"t":1305.5,"T1":11.5,"T2":0.51,"T3":12.45,"T4":0.48},
    {"t":1310.5,"T1":9.94,"T2":0.95,"T3":11.94,"T4":-0.05},
    {"t":1315.5,"T1":11.35,"T2":0.12,"T3":12.04,"T4":0.18},
    {"t":1320.5,"T1":10.86,"T2":1.09,"T3":12.44,"T4":-0.35},
    {"t":1325.5,"T1":11.5,"T2":0.63,"T3":11.69,"T4":0.22},
    {"t":1330.5,"T1":10.49,"T2":1.24,"T3":12.27,"T4":0.0},
    {"t":1335.5,"T1":11.11,"T2":0.23,"T3":12.01,"T4":-0.28},
    {"t":1340.5,"T1":10.12,"T2":0.48,"T3":11.68,"T4":0.34},
    {"t":1345.5,"T1":11.31,"T2":1.37,"T3":12.44,"T4":-0.28},
    {"t":1350.5,"T1":11.49,"T2":0.09,"T3":11.82,"T4":-0.46},
    {"t":1355.5,"T1":10.53,"T2":0.88,"T3":12.09,"T4":-0.09}
  ]},
  "resolve": {"axis": {"x": "independent", "y": "independent"}},
  "layer": [
    {
      "mark": {"type": "line", "strokeOpacity": 0},
      "encoding": {
        "x": {"field": "t", "type": "quantitative",
          "scale": {"domain": [378, 1359], "nice": false, "zero": false},
          "axis": {"orient": "bottom", "values": [400,440,480,520,560,600,640,680,720,760,800,840,880,920,960,1000,1040,1080,1120,1160,1200,1240,1280,1320],
            "tickSize": 11, "tickWidth": 2, "domain": false, "labels": false, "title": null, "grid": false}},
        "y": {"field": "T1", "type": "quantitative",
          "scale": {"domain": [-7.68, 22.26], "nice": false, "zero": false},
          "axis": {"orient": "left", "values": [-7,-6,-5,-4,-3,-2,-1,0,1,2,3,4,5,6,7,8,9,10,11,12,13,14,15,16,17,18,19,20,21,22],
            "tickSize": 7, "tickWidth": 2, "domain": false, "labels": false, "title": null, "grid": false}}
      }
    },
    {
      "mark": {"type": "line", "color": "#0000ff", "strokeWidth": 2},
      "encoding": {
        "x": {"field": "t", "type": "quantitative",
          "axis": {"orient": "bottom", "values": [400,600,800,1000,1200], "format": "d", "tickSize": 15, "tickWidth": 2,
            "domain": true, "domainWidth": 2, "labelFont": "Noto Sans Condensed, Roboto Condensed, DejaVu Sans Condensed, Liberation Sans Narrow, Liberation Sans",
            "labelFontSize": 24, "labelPadding": 4, "labelFlush": false, "labelOverlap": false,
            "title": "Time / s", "titleFont": "Noto Sans Condensed, Roboto Condensed, DejaVu Sans Condensed, Liberation Sans Narrow, Liberation Sans",
            "titleFontSize": 24, "titleFontWeight": "normal", "titleX": 404, "titleY": 73,
            "titleAlign": "center", "titleBaseline": "alphabetic"}},
        "y": {"field": "T1", "type": "quantitative",
          "axis": {"orient": "left", "values": [-5,0,5,10,15,20], "tickSize": 11, "tickWidth": 2,
            "domain": true, "domainWidth": 2, "labelFont": "Noto Sans Condensed, Roboto Condensed, DejaVu Sans Condensed, Liberation Sans Narrow, Liberation Sans",
            "labelFontSize": 24, "labelPadding": 5, "labelFlush": false, "labelOverlap": false,
            "labelExpr": "datum.value < 0 ? '-' + abs(datum.value) : datum.label",
            "title": "-dF / Hz", "titleFont": "Noto Sans Condensed, Roboto Condensed, DejaVu Sans Condensed, Liberation Sans Narrow, Liberation Sans",
            "titleFontSize": 24, "titleFontWeight": "normal", "titleAngle": -90, "titleX": -52, "titleY": 247,
            "titleAlign": "center", "titleBaseline": "alphabetic"}}
      }
    },
    {
      "mark": {"type": "line", "color": "#ff0000", "strokeWidth": 2},
      "encoding": {
        "x": {"field": "t", "type": "quantitative", "axis": null},
        "y": {"field": "T2", "type": "quantitative", "axis": null}
      }
    },
    {
      "mark": {"type": "line", "color": "#008000", "strokeWidth": 2},
      "encoding": {
        "x": {"field": "t", "type": "quantitative", "axis": null},
        "y": {"field": "T3", "type": "quantitative", "axis": null}
      }
    },
    {
      "mark": {"type": "line", "color": "#808080", "strokeWidth": 2},
      "encoding": {
        "x": {"field": "t", "type": "quantitative", "axis": null},
        "y": {"field": "T4", "type": "quantitative", "axis": null}
      }
    },
    {
      "data": {"values": [{"t": 965, "v": 14.3}, {"t": 965, "v": 2.9}, {"t": 965, "v": 2.2}]},
      "mark": {"type": "point", "shape": "square", "filled": true, "color": "black", "size": 20, "opacity": 1},
      "encoding": {
        "x": {"field": "t", "type": "quantitative", "axis": null},
        "y": {"field": "v", "type": "quantitative", "axis": null}
      }
    },
    {
      "data": {"values": [{}]},
      "mark": {"type": "text", "text": "1 & 3", "font": "Liberation Sans", "fontSize": 18, "align": "left", "baseline": "middle", "color": "black"},
      "encoding": {
        "x": {"datum": 1375.3, "type": "quantitative", "axis": null},
        "y": {"datum": 13.1, "type": "quantitative", "axis": null}
      }
    },
    {
      "data": {"values": [{}]},
      "mark": {"type": "text", "text": "2 & 4", "font": "Liberation Sans", "fontSize": 18, "align": "left", "baseline": "middle", "color": "black"},
      "encoding": {
        "x": {"datum": 1375.3, "type": "quantitative", "axis": null},
        "y": {"datum": 0.8, "type": "quantitative", "axis": null}
      }
    },
    {
      "data": {"values": [{}]},
      "mark": {"type": "text", "text": "Figure 5 Homogeneous assay with NA modified 15 nm gold nanoparticles for the detection of 5 × 10⁻¹¹ M target.", "font": "Open Sans", "fontSize": 20, "fontWeight": "bold", "align": "left", "baseline": "alphabetic", "color": "black"},
      "encoding": {
        "x": {"datum": 68.1, "type": "quantitative", "axis": null},
        "y": {"datum": -13.8, "type": "quantitative", "axis": null}
      }
    },
    {
      "data": {"values": [{}]},
      "mark": {"type": "text", "text": "Traces 1 & 3 are", "font": "Open Sans", "fontSize": 19, "align": "right", "baseline": "alphabetic", "color": "#333333"},
      "encoding": {
        "x": {"datum": 1633.9, "type": "quantitative", "axis": null},
        "y": {"datum": -13.8, "type": "quantitative", "axis": null}
      }
    },
    {
      "data": {"values": [{}]},
      "mark": {"type": "text", "text": "responses on active channels; traces 2 & 4 are responses on control channels.", "font": "Open Sans", "fontSize": 19, "align": "left", "baseline": "alphabetic", "color": "#333333"},
      "encoding": {
        "x": {"datum": 68.1, "type": "quantitative", "axis": null},
        "y": {"datum": -15.3, "type": "quantitative", "axis": null}
      }
    },
    {
      "data": {"values": [{}]},
      "mark": {"type": "rect", "fill": null, "stroke": "black", "strokeWidth": 1.5, "cornerRadius": 10},
      "encoding": {
        "x": {"datum": 58.1, "type": "quantitative", "axis": null},
        "x2": {"datum": 1645.2},
        "y": {"datum": 23.17, "type": "quantitative", "axis": null},
        "y2": {"datum": -16.27}
      }
    }
  ]
}
